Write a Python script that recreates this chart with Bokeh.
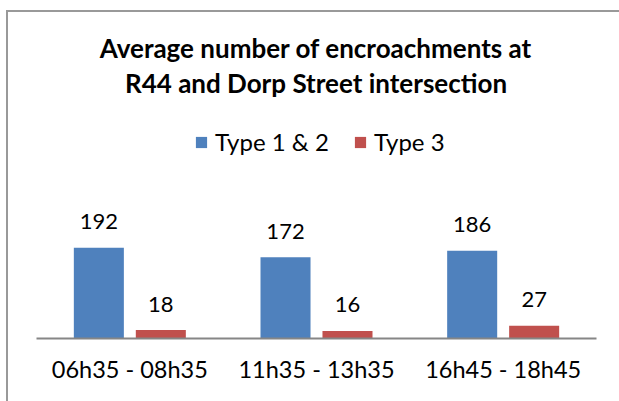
from bokeh.plotting import figure
from bokeh.models import (FactorRange, Range1d, ColumnDataSource, Legend, LegendItem, Label)
from bokeh.transform import dodge
from bokeh.core.properties import value
from bokeh.embed import file_html
from bokeh.resources import INLINE

categories = ["06h35 - 08h35", "11h35 - 13h35", "16h45 - 18h45"]
type12 = [192, 172, 186]
type3 = [18, 16, 27]
series_names = ["Type 1 & 2", "Type 3"]
title_lines = ["Average number of encroachments at", "R44 and Dorp Street intersection"]

BLUE = "#4F81BD"
RED = "#C0504D"
FONT = "Lato"
EDGE = "#999999"

src = ColumnDataSource(dict(
    cat=categories, t12=type12, t3=type3,
    t12_lbl=[str(v) for v in type12], t3_lbl=[str(v) for v in type3],
))

p = figure(x_range=FactorRange(*categories), y_range=Range1d(0, 716),
           width=619, height=401, output_backend="svg", toolbar_location=None,
           min_border_left=36, min_border_right=23, min_border_top=0, min_border_bottom=63)
p.styles = {"background": (f"linear-gradient({EDGE}, {EDGE}) 6px 10px / 2px 100% no-repeat, "
                           f"linear-gradient({EDGE}, {EDGE}) 6px 10px / 100% 2px no-repeat, white")}
p.outline_line_color = None
p.background_fill_color = None
p.border_fill_color = None
p.xgrid.visible = False
p.ygrid.visible = False
p.yaxis.visible = False

ax = p.xaxis[0]
ax.axis_line_color = "#868686"
ax.axis_line_width = 2
ax.major_tick_line_color = None
ax.minor_tick_line_color = None
ax.major_tick_out = 0
ax.major_label_standoff = 16
ax.major_label_text_font = FONT
ax.major_label_text_font_size = "23.5px"
ax.major_label_text_color = "black"

r1 = p.vbar(x=dodge("cat", -0.166, range=p.x_range), top="t12", width=0.268,
            source=src, fill_color=BLUE, line_color=None)
r2 = p.vbar(x=dodge("cat", 0.166, range=p.x_range), top="t3", width=0.268,
            source=src, fill_color=RED, line_color=None)

for col, lbl, off in (("t12", "t12_lbl", -0.166), ("t3", "t3_lbl", 0.166)):
    p.text(x=dodge("cat", off, range=p.x_range), y=col, text=lbl, source=src,
           text_align="center", text_baseline="alphabetic", y_offset=-26,
           text_font=value(FONT), text_font_size="22px", text_color="black")

legend = Legend(items=[LegendItem(label=series_names[0], renderers=[r1]),
                       LegendItem(label=series_names[1], renderers=[r2])],
                orientation="horizontal", location=(158, 182),
                glyph_width=14, glyph_height=14, label_height=14,
                label_standoff=7, spacing=24, padding=0, margin=0,
                border_line_color=None, background_fill_alpha=0,
                label_text_font=FONT, label_text_font_size="24px",
                label_text_color="black")
p.add_layout(legend, "center")

for txt, yy in zip(title_lines, (291, 256)):
    p.add_layout(Label(x=279.5, y=yy, x_units="screen", y_units="screen", text=txt,
                       text_align="center", text_baseline="alphabetic",
                       text_font=FONT, text_font_style="bold",
                       text_font_size="26px", text_color="black"))

html = file_html(p, INLINE)
html = html.replace("<head>", "<head><style>html, body { overflow: hidden; }</style>", 1)
open("out.html", "w").write(html)
